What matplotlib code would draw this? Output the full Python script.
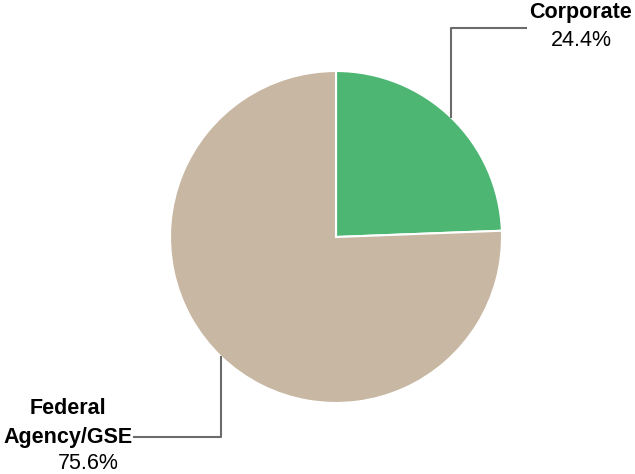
import numpy as np
import matplotlib
matplotlib.use('Agg')
import matplotlib.pyplot as plt

labels = ['Corporate', 'Federal\nAgency/GSE']
values = [24.4, 75.6]
colors = ['#4db673', '#c8b8a3']

plt.rcParams['font.family'] = ['Liberation Sans', 'DejaVu Sans']

W, H = 635, 474
fig = plt.figure(figsize=(W / 100, H / 100), dpi=100)
ax = fig.add_axes([0, 0, 1, 1])

cx, cy, r = 336, 237, 166
wedges, _ = ax.pie(values, colors=colors, startangle=90, counterclock=False,
                   center=(cx, cy), radius=r, frame=True,
                   wedgeprops=dict(edgecolor='white', linewidth=1.5))
ax.set_xlim(0, W)
ax.set_ylim(0, H)
ax.set_aspect('equal')
ax.axis('off')

line_col = '#6b6b6b'
fs = 15.5
# leader lines from the middle of each wedge edge
for w, lab, v in zip(wedges, labels, values):
    mid = np.deg2rad((w.theta1 + w.theta2) / 2)
    px, py = cx + r * np.cos(mid), cy + r * np.sin(mid)
    if px > cx:
        ax.plot([px, px, 526], [py, 446, 446], color=line_col, lw=1.5)
        ax.text(580, 461.5, lab, ha='center', va='center', fontsize=fs, fontweight='bold')
        ax.text(581, 434, '%.1f%%' % v, ha='center', va='center', fontsize=fs)
    else:
        ax.plot([px, px, 134], [py, 37, 37], color=line_col, lw=1.5)
        for i, part in enumerate(lab.split('\n')):
            ax.text(68, 66 - 29 * i, part, ha='center', va='center', fontsize=fs,
                    fontweight='bold')
        ax.text(88, 10.5, '%.1f%%' % v, ha='center', va='center', fontsize=fs)

fig.savefig('out.png', dpi=100)
